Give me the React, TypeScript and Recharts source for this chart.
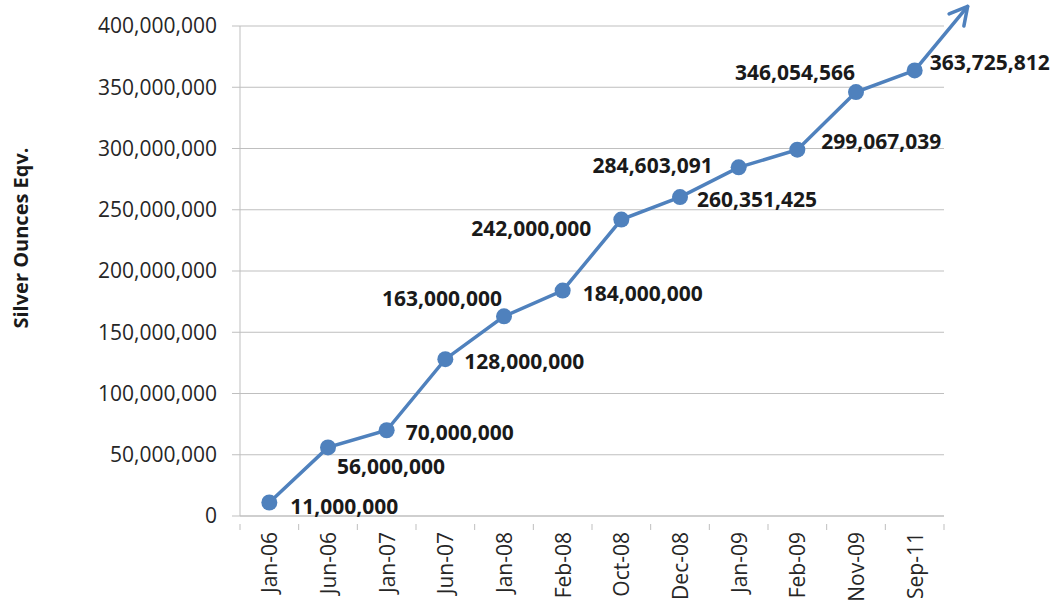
import React from "react"
import { CartesianGrid, LabelList, Line, LineChart, XAxis, YAxis } from "recharts"

const months = [
  "Jan-06", "Jun-06", "Jan-07", "Jun-07", "Jan-08", "Feb-08",
  "Oct-08", "Dec-08", "Jan-09", "Feb-09", "Nov-09", "Sep-11",
]

const ounces = [
  11000000, 56000000, 70000000, 128000000, 163000000, 184000000,
  242000000, 260351425, 284603091, 299067039, 346054566, 363725812,
]

const yTicks = [0, 50000000, 100000000, 150000000, 200000000, 250000000, 300000000, 350000000, 400000000]

const data = months.map((month, i) => ({ month, ounces: ounces[i] }))

const W = 1057
const H = 601
const M = { top: 26, right: 113, bottom: 0, left: 0 }
const Y_AXIS_W = 240
const X_AXIS_H = 85
const STEP = (W - M.right - Y_AXIS_W) / months.length

const BLUE = "#4f81bd"
const GRID = "#bfbfbf"
const FONT = "'Open Sans', sans-serif"

// label placement per point: [dx, dy, anchor]
const labelPos: [number, number, "start" | "end"][] = [
  [21, 3, "start"],
  [9, 19, "start"],
  [19, 2, "start"],
  [19, 2, "start"],
  [-2, -18, "end"],
  [20, 2, "start"],
  [-30, 8, "end"],
  [17, 2, "start"],
  [-26, -2, "end"],
  [24, -9, "start"],
  [-1, -20, "end"],
  [15, -8, "start"],
]

const fmt = (v: number) => v.toLocaleString("en-US")

function Dot(props: any) {
  const { cx, cy, index } = props
  const last = index === months.length - 1
  // arrow continuing past the last point
  const tx = cx + 53
  const ty = cy - 64
  const ang = Math.atan2(ty - cy, tx - cx)
  const head = 20
  const spread = 0.5
  return (
    <g>
      {last && (
        <g stroke={BLUE} strokeWidth={3.5} fill="none" strokeLinecap="round" strokeLinejoin="round">
          <line x1={cx} y1={cy} x2={tx} y2={ty} />
          <polyline
            points={`${tx - head * Math.cos(ang - spread)},${ty - head * Math.sin(ang - spread)} ${tx},${ty} ${tx - head * Math.cos(ang + spread)},${ty - head * Math.sin(ang + spread)}`}
          />
        </g>
      )}
      <circle cx={cx} cy={cy} r={8} fill={BLUE} />
    </g>
  )
}

function PointLabel(props: any) {
  const { x, y, value, index } = props
  const [dx, dy, anchor] = labelPos[index]
  return (
    <text
      x={x + dx}
      y={y + dy}
      textAnchor={anchor}
      dominantBaseline="central"
      fontFamily={FONT}
      fontWeight={700}
      fontSize={21}
      fill="#1a1a1a"
    >
      {fmt(value)}
    </text>
  )
}

function MonthTick(props: any) {
  const { x, y, payload, index } = props
  const top = y + 8
  const left = x - STEP / 2
  return (
    <g>
      <line x1={left} y1={y} x2={left} y2={y + 6} stroke={GRID} />
      {index === months.length - 1 && (
        <line x1={x + STEP / 2} y1={y} x2={x + STEP / 2} y2={y + 6} stroke={GRID} />
      )}
      <text
        x={0}
        y={0}
        transform={`translate(${x},${top}) rotate(-90)`}
        textAnchor="end"
        dominantBaseline="central"
        fontFamily={FONT}
        fontSize={21}
        fill="#262626"
      >
        {payload.value}
      </text>
    </g>
  )
}

function YTitle(props: any) {
  const { viewBox } = props
  const cx = 20
  const cy = viewBox.y + viewBox.height / 2 - 33
  return (
    <text
      x={0}
      y={0}
      transform={`translate(${cx},${cy}) rotate(-90)`}
      textAnchor="middle"
      dominantBaseline="central"
      fontFamily={FONT}
      fontWeight={700}
      fontSize={20}
      fill="#1a1a1a"
    >
      Silver Ounces Eqv.
    </text>
  )
}

export default function App() {
  return (
    <div style={{ position: "absolute", left: 0, top: 0, width: W, height: H, background: "#fff" }}>
      <LineChart width={W} height={H} data={data} margin={M}>
        <CartesianGrid horizontal vertical={false} stroke={GRID} />
        <XAxis
          dataKey="month"
          interval={0}
          height={X_AXIS_H}
          padding={{ left: STEP / 2, right: STEP / 2 }}
          tickLine={false}
          axisLine={{ stroke: GRID }}
          tick={<MonthTick />}
        />
        <YAxis
          width={Y_AXIS_W}
          domain={[0, 400000000]}
          ticks={yTicks}
          tickFormatter={fmt}
          tickSize={8}
          tickMargin={15}
          axisLine={{ stroke: GRID }}
          tickLine={{ stroke: GRID }}
          tick={{ fontFamily: FONT, fontSize: 21, fill: "#262626" }}
          label={<YTitle />}
        />
        <Line
          type="linear"
          dataKey="ounces"
          stroke={BLUE}
          strokeWidth={3.5}
          dot={<Dot />}
          activeDot={false}
          isAnimationActive={false}
        >
          <LabelList dataKey="ounces" content={<PointLabel />} />
        </Line>
      </LineChart>
    </div>
  )
}
